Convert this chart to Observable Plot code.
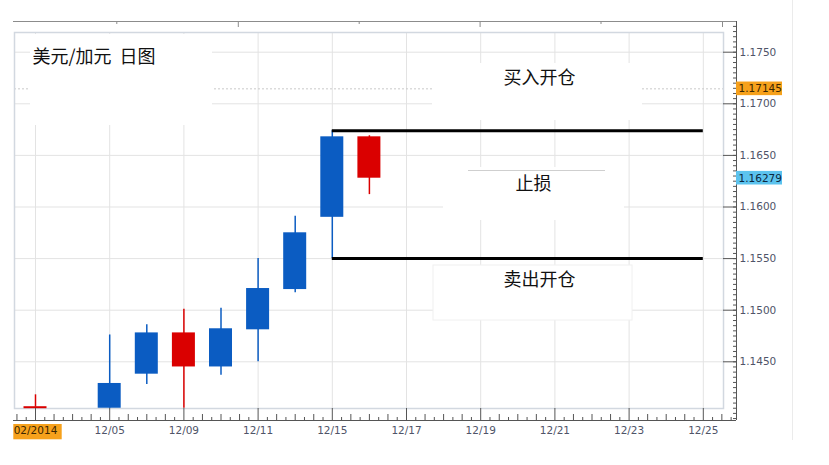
<!DOCTYPE html>
<html><head><meta charset="utf-8">
<script src="https://cdn.jsdelivr.net/npm/d3@7"></script>
<script src="https://cdn.jsdelivr.net/npm/@observablehq/plot@0.6"></script>
<style>body{margin:0;background:#fff}#chart svg{display:block}</style>
</head><body><div id="chart"></div>
<script>
// ---- data ----
const candleIndex = [0, 2, 3, 4, 5, 6, 7, 8, 9];
const candleDate  = ["12/03","12/05","12/08","12/09","12/10","12/11","12/12","12/15","12/16"];
const openP  = [1.1406, 1.1405, 1.1438, 1.1478, 1.1445, 1.1481, 1.1520, 1.1590, 1.1668];
const highP  = [1.1418, 1.1476, 1.1486, 1.1501, 1.1502, 1.1550, 1.1591, 1.1674, 1.1669];
const lowP   = [1.1406, 1.1405, 1.1428, 1.1405, 1.1437, 1.1450, 1.1517, 1.1550, 1.1612];
const closeP = [1.1406, 1.1429, 1.1478, 1.1445, 1.1482, 1.1521, 1.1575, 1.1668, 1.16279];

const xTickIndex  = [0, 2, 4, 6, 8, 10, 12, 14, 16, 18];
const xTickLabels = ["02/2014","12/05","12/09","12/11","12/15","12/17","12/19","12/21","12/23","12/25"];
const yTicks = [1.1450, 1.1500, 1.1550, 1.1600, 1.1650, 1.1700, 1.1750];

const levelValues = [1.1674, 1.1550];        // 开仓线
const askPrice = 1.17145;
const bidPrice = 1.16279;

const titleText = "美元/加元  日图";
const labelBuy  = "买入开仓";
const labelStop = "止损";
const labelSell = "卖出开仓";

// ---- layout helpers (pixel -> data units) ----
const px = p => (p - 35) / 37.1;
const py = p => 1.175 - (p - 51.7) * 0.005 / 51.6;
const dpy = p => p * 0.005 / 51.6;

const candles = candleIndex.map((i, k) => ({i, date: candleDate[k], open: openP[k], high: highP[k], low: lowP[k], close: closeP[k]}));
const colorOf = d => d.close > d.open ? "#0b5cc2" : "#da0000";
const W = 0.31;

const axisX = px(736), outerLeft = px(13), topV = py(21), bottomV = py(420), frameRight = px(723), frameBottom = py(408);
const minorX = d3.range(-0.5, 18.76, 0.25).filter(v => Math.abs(v / 2 - Math.round(v / 2)) > 1e-6);
const minorY = d3.range(0, 78).map(k => 1.1395 + k * 0.0005).filter(v => v <= topV && v >= bottomV);
const topTicks = [px(116.3), px(237.8), px(358.7), px(479.6), px(600.5), px(722)];

const boxes = [
  {x1: px(30), x2: px(212), y1: py(34), y2: py(125)},
  {x1: px(432), x2: px(642), y1: py(63), y2: py(120)},
  {x1: px(443), x2: px(624), y1: py(167), y2: py(220)},
  {x1: px(433), x2: px(632), y1: py(265), y2: py(320)}
];
const tags = [
  {v: askPrice, fill: "#f6a11c", ink: "#3b2600"},
  {v: bidPrice, fill: "#5cc3ee", ink: "#0b2740"}
];
const axisInk = "#4f5468";
const cjk = "Noto Sans CJK SC";

const chart = Plot.plot({
  width: 829, height: 465,
  marginTop: 32, marginBottom: 57, marginLeft: 14, marginRight: 106,
  x: {type: "linear", domain: [px(14), px(723)], axis: null},
  y: {type: "linear", domain: [frameBottom, py(32)], axis: null},
  style: {fontFamily: "DejaVu Sans, Verdana, sans-serif", fontSize: "10.5px", background: "#fff", overflow: "visible"},
  marks: [
    Plot.gridX(xTickIndex, {stroke: "#e3e3e3", strokeOpacity: 1}),
    Plot.gridY(yTicks, {stroke: "#e3e3e3", strokeOpacity: 1}),
    Plot.ruleY([askPrice], {stroke: "#c9c9c9", strokeDasharray: "2,2"}),
    Plot.frame({stroke: "#d2d8e0", strokeWidth: 1.5}),
    Plot.rect(boxes, {x1: "x1", x2: "x2", y1: "y1", y2: "y2", fill: "#fff"}),
    Plot.rect([boxes[3]], {x1: "x1", x2: "x2", y1: "y1", y2: "y2", fill: "none", stroke: "#f0f0f0"}),
    Plot.ruleY([py(170)], {x1: px(468), x2: px(605), stroke: "#cfcfcf"}),
    // candles
    Plot.ruleX(candles, {x: "i", y1: "low", y2: "high", stroke: colorOf, strokeWidth: 1.5}),
    Plot.rect(candles.filter(d => d.open !== d.close), {x1: d => d.i - W, x2: d => d.i + W, y1: "open", y2: "close", fill: colorOf}),
    Plot.ruleY(candles.filter(d => d.open === d.close), {y: "close", x1: d => d.i - W, x2: d => d.i + W, stroke: colorOf, strokeWidth: 2}),
    // levels
    Plot.ruleY(levelValues, {x1: 8, x2: 18, stroke: "#000", strokeWidth: 3}),
    // outer axis frame
    Plot.ruleY([topV], {x1: outerLeft, x2: axisX, stroke: "#8c8c8c"}),
    Plot.ruleX(topTicks, {y1: topV, y2: (d, k) => topV - dpy(k % 2 ? 6 : 3), stroke: "#8c8c8c"}),
    Plot.ruleX([axisX], {y1: topV, y2: bottomV, stroke: "#555"}),
    Plot.ruleY([bottomV], {x1: outerLeft, x2: axisX, stroke: "#555"}),
    Plot.ruleX(xTickIndex, {y1: bottomV, y2: frameBottom, stroke: "#555"}),
    Plot.ruleX(minorX, {y1: bottomV, y2: d => bottomV + dpy(Math.abs(d * 2 - Math.round(d * 2)) < 1e-6 ? 6 : 3), stroke: "#555"}),
    Plot.ruleY(minorY, {x1: axisX - 3 / 37.1, x2: axisX, stroke: "#555"}),
    Plot.ruleY(yTicks, {x1: frameRight, x2: axisX, stroke: "#555"}),
    Plot.ruleX([px(792)], {y1: py(0), y2: py(440), stroke: "#ebebeb"}),
    // axis text
    Plot.text(yTicks, {y: d => d, text: d => d.toFixed(4), frameAnchor: "right", dx: 16, textAnchor: "start", fill: axisInk}),
    Plot.rect([0], {x1: px(13.3), x2: px(61.7), y1: py(424), y2: py(439.3), fill: "#f6a11c"}),
    Plot.text(xTickIndex, {x: d => d, text: (d, k) => xTickLabels[k], frameAnchor: "bottom", dy: 25, fill: (d, k) => k === 0 ? "#3b2600" : axisInk}),
    // price tags
    Plot.rect(tags, {x1: axisX, x2: px(782), y1: d => d.v - dpy(6.8), y2: d => d.v + dpy(6.8), fill: "fill"}),
    Plot.text(tags, {y: "v", text: d => d.v.toFixed(5), frameAnchor: "right", dx: 15, textAnchor: "start", fill: "ink"}),
    // annotations
    Plot.text([titleText], {x: px(32), y: py(56.7), text: d => d, textAnchor: "start", fontSize: 18, fontFamily: cjk, fill: "#111"}),
    Plot.text([labelBuy], {x: px(539), y: py(78), text: d => d, fontSize: 18, fontFamily: cjk, fill: "#111"}),
    Plot.text([labelStop], {x: px(533), y: py(183.3), text: d => d, fontSize: 18, fontFamily: cjk, fill: "#111"}),
    Plot.text([labelSell], {x: px(539), y: py(280), text: d => d, fontSize: 18, fontFamily: cjk, fill: "#111"})
  ]
});
document.getElementById("chart").appendChild(chart);
</script>
</body></html>
